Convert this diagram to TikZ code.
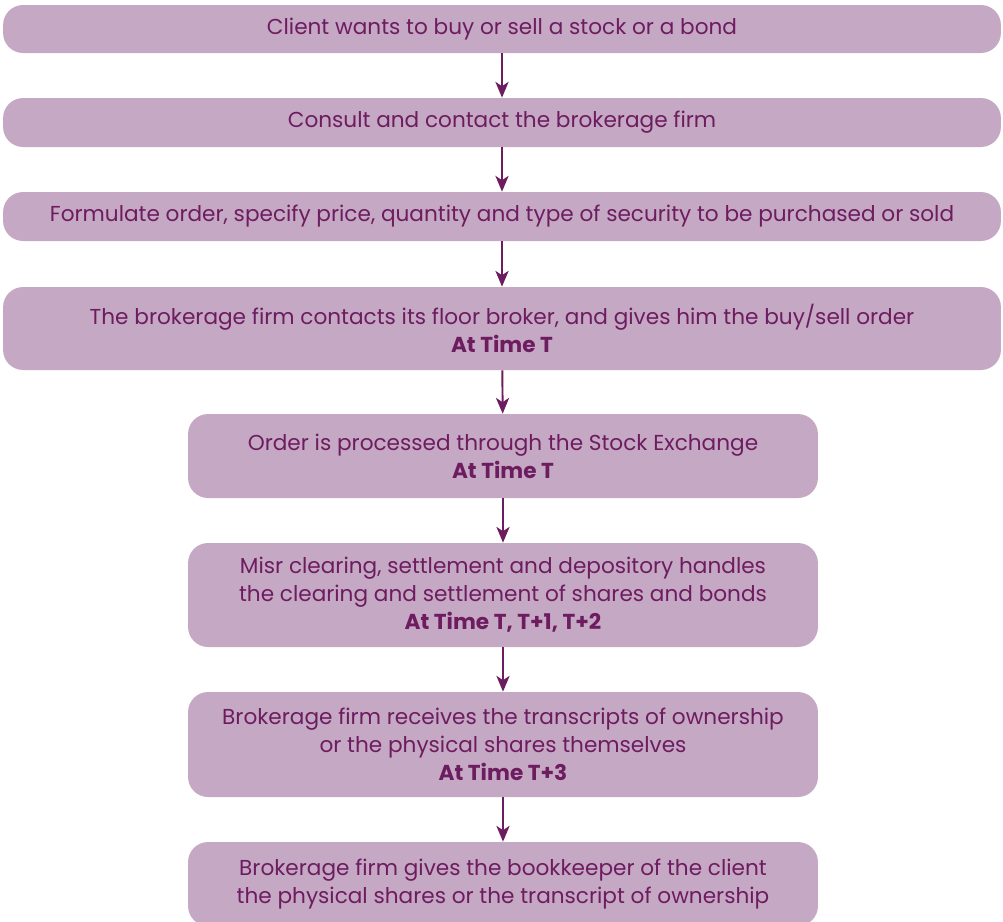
\documentclass[tikz,border=0pt]{standalone}
\usepackage{fontspec}
\setmainfont{Poppins}
\usetikzlibrary{arrows.meta}
\definecolor{boxfill}{RGB}{197,168,195}
\definecolor{boxtext}{RGB}{110,28,96}
\begin{document}
\begin{tikzpicture}[x=0.02cm, y=-0.02cm,
    stepbox/.style = {fill=boxfill, rounded corners=0.4cm, text=boxtext, align=center,
                      font=\fontsize{12.3}{15.9}\selectfont, inner sep=0pt},
    wide/.style = {stepbox, minimum width=19.96cm},
    narrow/.style = {stepbox, minimum width=12.6cm},
    flow/.style = {draw=boxtext, line width=1.1pt, -{Stealth[length=9pt, width=7.5pt, inset=2.5pt]}}]
  \clip (0,0) rectangle (1003,921);
  \fill[white] (0,0) rectangle (1003,921);
  \node[wide, minimum height=0.96cm] (client) at (502,29) {Client wants to buy or sell a stock or a bond};
  \node[wide, minimum height=0.98cm] (consult) at (502,122.5) {Consult and contact the brokerage firm};
  \node[wide, minimum height=0.98cm] (order) at (502,216.5) {Formulate order, specify price, quantity and type of security to be purchased or sold};
  \node[wide, minimum height=1.66cm] (floor) at (502,328.5) {The brokerage firm contacts its floor broker, and gives him the buy/sell order\\ \textbf{At Time T}};
  \node[narrow, minimum height=1.68cm] (exchange) at (503,456) {Order is processed through the Stock Exchange\\ \textbf{At Time T}};
  \node[narrow, minimum height=2.08cm] (clearing) at (503,595) {Misr clearing, settlement and depository handles\\ the clearing and settlement of shares and bonds\\ \textbf{At Time T, T+1, T+2}};
  \node[narrow, minimum height=2.1cm] (receive) at (503,744.5) {Brokerage firm receives the transcripts of ownership\\ or the physical shares themselves\\ \textbf{At Time T+3}};
  \node[narrow, minimum height=1.68cm] (keeper) at (503,884) {Brokerage firm gives the bookkeeper of the client\\ the physical shares or the transcript of ownership};
  % arrows between the steps
  \foreach \a/\b in {client/consult, consult/order, order/floor, floor/exchange,
                     exchange/clearing, clearing/receive, receive/keeper}
    \draw[flow] (\a) -- (\b);
\end{tikzpicture}
\end{document}
